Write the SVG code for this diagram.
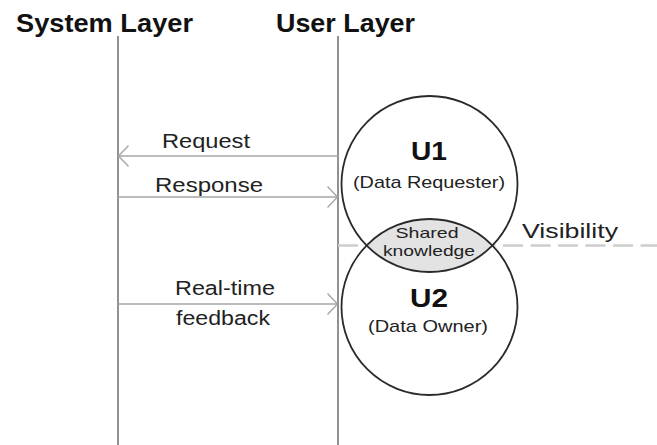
<svg xmlns="http://www.w3.org/2000/svg" width="657" height="445" viewBox="0 0 657 445">
  <defs>
    <style>
      .title { font-family: "Liberation Sans", Arial, sans-serif; font-weight: bold; font-size: 26px; fill: #111; }
      .lbl { font-family: "Liberation Sans", Arial, sans-serif; font-size: 20px; fill: #222; }
      .big { font-family: "Liberation Sans", Arial, sans-serif; font-weight: bold; font-size: 25px; fill: #111; text-anchor: middle; }
      .sub { font-family: "Liberation Sans", Arial, sans-serif; font-size: 17px; fill: #222; text-anchor: middle; }
      .small { font-family: "Liberation Sans", Arial, sans-serif; font-size: 15px; fill: #222; text-anchor: middle; }
      .life { stroke: #777; stroke-width: 1.6; fill: none; }
      .arrow { stroke: #a6a6a6; stroke-width: 1.6; fill: none; }
      .circ { stroke: #2a2a2a; stroke-width: 1.8; fill: none; }
    </style>
    <marker id="open" viewBox="0 0 12 24" refX="11" refY="12" markerWidth="12" markerHeight="24" markerUnits="userSpaceOnUse" orient="auto">
      <path d="M1,1.5 L11,12 L1,22.5" fill="none" stroke="#a6a6a6" stroke-width="1.4"/>
    </marker>
  </defs>
  <rect width="657" height="445" fill="#fff"/>

  <g id="system-layer">
    <text class="title" x="16" y="32" textLength="177" lengthAdjust="spacingAndGlyphs">System Layer</text>
    <line class="life" x1="118" y1="36" x2="118" y2="445"/>
  </g>
  <g id="user-layer">
    <text class="title" x="276" y="32" textLength="139" lengthAdjust="spacingAndGlyphs">User Layer</text>
    <line class="life" x1="338" y1="36" x2="338" y2="445"/>
  </g>

  <g id="visibility">
    <line x1="338" y1="245.5" x2="657" y2="245.5" stroke="#cdcdcd" stroke-width="2.5" stroke-dasharray="20 7.5"/>
    <text x="522" y="238" font-family="Liberation Sans, Arial, sans-serif" font-size="21" fill="#222" textLength="96" lengthAdjust="spacingAndGlyphs">Visibility</text>
  </g>

  <g id="shared-knowledge">
    <path d="M366.56,245.5 A88,88 0 0 1 492.44,245.5 A88,88 0 0 1 366.56,245.5 Z" fill="#e3e3e3"/>
    <text class="small" x="427" y="238" textLength="63" lengthAdjust="spacingAndGlyphs">Shared</text>
    <text class="small" x="429" y="256" textLength="92" lengthAdjust="spacingAndGlyphs">knowledge</text>
  </g>

  <g id="u1">
    <circle class="circ" cx="429.5" cy="184" r="88"/>
    <text class="big" x="429" y="160" textLength="36" lengthAdjust="spacingAndGlyphs">U1</text>
    <text class="sub" x="429" y="188" textLength="152" lengthAdjust="spacingAndGlyphs">(Data Requester)</text>
  </g>

  <g id="u2">
    <circle class="circ" cx="429.5" cy="307" r="88"/>
    <text class="big" x="429" y="307" textLength="38" lengthAdjust="spacingAndGlyphs">U2</text>
    <text class="sub" x="428" y="332" textLength="120" lengthAdjust="spacingAndGlyphs">(Data Owner)</text>
  </g>

  <g id="connectors">
    <line class="arrow" x1="338" y1="156" x2="118.5" y2="156" marker-end="url(#open)"/>
    <text class="lbl" x="162" y="148" textLength="88" lengthAdjust="spacingAndGlyphs">Request</text>
    <line class="arrow" x1="118" y1="197" x2="337.5" y2="197" marker-end="url(#open)"/>
    <text class="lbl" x="155" y="192" textLength="108" lengthAdjust="spacingAndGlyphs">Response</text>
    <line class="arrow" x1="118" y1="304" x2="337.5" y2="304" marker-end="url(#open)"/>
    <text class="lbl" x="175" y="295" textLength="100" lengthAdjust="spacingAndGlyphs">Real-time</text>
    <text class="lbl" x="176" y="325" textLength="94" lengthAdjust="spacingAndGlyphs">feedback</text>
  </g>
</svg>
